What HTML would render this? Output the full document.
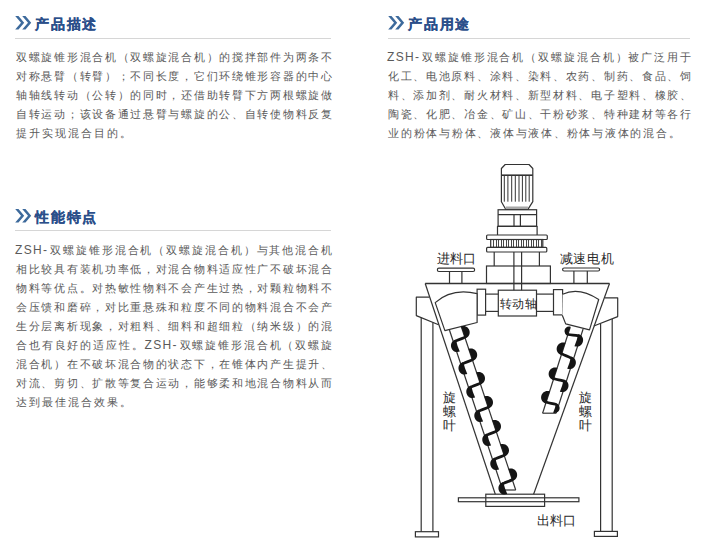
<!DOCTYPE html>
<html><head><meta charset="utf-8">
<style>
html,body{margin:0;padding:0;background:#fff;width:707px;height:554px;overflow:hidden;position:relative;font-family:"Liberation Sans",sans-serif;}
.h{position:absolute;height:20px;font-size:14.2px;letter-spacing:1.8px;font-weight:bold;color:#2b4f8a;line-height:20px;white-space:nowrap;}
.h svg{position:absolute;left:0;top:3px;}
.h span{position:absolute;left:20px;top:0.8px;-webkit-text-stroke:0.2px #2b4f8a;}
.sep{position:absolute;height:1px;background:#d6d6d6;}
.p{position:absolute;font-size:11px;color:#5a5a5a;line-height:19.05px;white-space:nowrap;}
.p div{height:19.05px;text-align:justify;text-align-last:justify;}
.z{font-size:12px;letter-spacing:1.3px;margin-left:-1px;}
.p div.l{text-align:left;text-align-last:left;letter-spacing:1.95px;}
.lb{position:absolute;font-size:12.5px;line-height:14px;color:#2a2a2a;white-space:nowrap;}
.v{line-height:14px;font-size:12.5px;}
</style></head><body>

<div class="h" style="left:15px;top:13px;width:200px">
<svg width="18" height="15" viewBox="0 0 18 15"><path d="M0.2,0 L3.5,0 L9.2,6.8 L3.5,13.5 L0.2,13.5 L6,6.8 Z M7.2,0 L10.5,0 L16.2,6.8 L10.5,13.5 L7.2,13.5 L13,6.8 Z" fill="#3d6a9c"/></svg>
<span>产品描述</span></div>
<div class="sep" style="left:15px;top:38px;width:316px"></div>
<div class="p" style="left:16px;top:48px;width:316px">
<div>双螺旋锥形混合机（双螺旋混合机）的搅拌部件为两条不</div>
<div>对称悬臂（转臂）；不同长度，它们环绕锥形容器的中心</div>
<div>轴轴线转动（公转）的同时，还借助转臂下方两根螺旋做</div>
<div>自转运动；该设备通过悬臂与螺旋的公、自转使物料反复</div>
<div class="l">提升实现混合目的。</div>
</div>

<div class="h" style="left:388px;top:13px;width:200px">
<svg width="18" height="15" viewBox="0 0 18 15"><path d="M0.2,0 L3.5,0 L9.2,6.8 L3.5,13.5 L0.2,13.5 L6,6.8 Z M7.2,0 L10.5,0 L16.2,6.8 L10.5,13.5 L7.2,13.5 L13,6.8 Z" fill="#3d6a9c"/></svg>
<span>产品用途</span></div>
<div class="sep" style="left:388px;top:38px;width:302px"></div>
<div class="p" style="left:388px;top:48px;width:303px">
<div><span class="z">ZSH-</span>双螺旋锥形混合机（双螺旋混合机）被广泛用于</div>
<div>化工、电池原料、涂料、染料、农药、制药、食品、饲</div>
<div>料、添加剂、耐火材料、新型材料、电子塑料、橡胶、</div>
<div>陶瓷、化肥、冶金、矿山、干粉砂浆、特种建材等各行</div>
<div class="l" style="letter-spacing:1.75px">业的粉体与粉体、液体与液体、粉体与液体的混合。</div>
</div>

<div class="h" style="left:15px;top:206px;width:200px">
<svg width="18" height="15" viewBox="0 0 18 15"><path d="M0.2,0 L3.5,0 L9.2,6.8 L3.5,13.5 L0.2,13.5 L6,6.8 Z M7.2,0 L10.5,0 L16.2,6.8 L10.5,13.5 L7.2,13.5 L13,6.8 Z" fill="#3d6a9c"/></svg>
<span>性能特点</span></div>
<div class="sep" style="left:15px;top:230px;width:316px"></div>
<div class="p" style="left:16px;top:241px;width:316px">
<div><span class="z">ZSH-</span>双螺旋锥形混合机（双螺旋混合机）与其他混合机</div>
<div>相比较具有装机功率低，对混合物料适应性广不破坏混合</div>
<div>物料等优点。对热敏性物料不会产生过热，对颗粒物料不</div>
<div>会压馈和磨碎，对比重悬殊和粒度不同的物料混合不会产</div>
<div>生分层离析现象，对粗料、细料和超细粒（纳米级）的混</div>
<div>合也有良好的适应性。<span class="z" style="margin-left:0">ZSH-</span>双螺旋锥形混合机（双螺旋</div>
<div>混合机）在不破坏混合物的状态下，在锥体内产生提升、</div>
<div>对流、剪切、扩散等复合运动，能够柔和地混合物料从而</div>
<div class="l">达到最佳混合效果。</div>
</div>

<svg style="position:absolute;left:0;top:0" width="707" height="554" viewBox="0 0 707 554">
<path d="M505.2,164.5 L529,164.5 L532.8,168.5 L532.8,201.7 L527.9,209.3 L505.7,209.3 L501.4,201.7 L501.4,168.5 Z" fill="#fff" stroke="#333" stroke-width="1.2" stroke-linejoin="round"/>
<line x1="501.4" y1="175.2" x2="532.8" y2="175.2" stroke="#333" stroke-width="1.6"/>
<line x1="504.3" y1="175.2" x2="504.3" y2="201.7" stroke="#333" stroke-width="1.0"/>
<line x1="507.9" y1="175.2" x2="507.9" y2="201.7" stroke="#333" stroke-width="1.0"/>
<line x1="511.7" y1="175.2" x2="511.7" y2="201.7" stroke="#333" stroke-width="1.0"/>
<line x1="515.3" y1="175.2" x2="515.3" y2="201.7" stroke="#333" stroke-width="1.0"/>
<line x1="519.0" y1="175.2" x2="519.0" y2="201.7" stroke="#333" stroke-width="1.0"/>
<line x1="522.4" y1="175.2" x2="522.4" y2="201.7" stroke="#333" stroke-width="1.0"/>
<line x1="525.8" y1="175.2" x2="525.8" y2="201.7" stroke="#333" stroke-width="1.0"/>
<line x1="529.2" y1="175.2" x2="529.2" y2="201.7" stroke="#333" stroke-width="1.0"/>
<rect x="505.7" y="206.5" width="22.2" height="3" fill="#a8a8a8"/>
<rect x="498.1" y="209.75" width="38.5" height="16.55" rx="0" fill="none" stroke="#333" stroke-width="1.2"/>
<line x1="498.1" y1="214.6" x2="536.6" y2="214.6" stroke="#333" stroke-width="1.2"/>
<line x1="514" y1="214.6" x2="514" y2="226.3" stroke="#333" stroke-width="1.2"/>
<line x1="520.4" y1="214.6" x2="520.4" y2="226.3" stroke="#333" stroke-width="1.2"/>
<path d="M497.5,235 L497.5,226.3 L537.1,226.3 L537.1,235" fill="none" stroke="#333" stroke-width="1.2" stroke-linejoin="round"/>
<rect x="486.6" y="235" width="60.7" height="4.5" rx="1" fill="none" stroke="#333" stroke-width="1.2"/>
<rect x="490.7" y="239.5" width="52.1" height="7.9" rx="0" fill="none" stroke="#333" stroke-width="1.2"/>
<line x1="493.5" y1="239.5" x2="493.5" y2="247.4" stroke="#333" stroke-width="0.9"/>
<line x1="496.5" y1="239.5" x2="496.5" y2="247.4" stroke="#333" stroke-width="0.9"/>
<line x1="498.5" y1="239.5" x2="498.5" y2="247.4" stroke="#333" stroke-width="0.9"/>
<line x1="501.5" y1="239.5" x2="501.5" y2="247.4" stroke="#333" stroke-width="0.9"/>
<line x1="503.5" y1="239.5" x2="503.5" y2="247.4" stroke="#333" stroke-width="0.9"/>
<line x1="506.5" y1="239.5" x2="506.5" y2="247.4" stroke="#333" stroke-width="0.9"/>
<line x1="508.5" y1="239.5" x2="508.5" y2="247.4" stroke="#333" stroke-width="0.9"/>
<line x1="511.5" y1="239.5" x2="511.5" y2="247.4" stroke="#333" stroke-width="0.9"/>
<line x1="513.5" y1="239.5" x2="513.5" y2="247.4" stroke="#333" stroke-width="0.9"/>
<line x1="516.5" y1="239.5" x2="516.5" y2="247.4" stroke="#333" stroke-width="0.9"/>
<line x1="518.5" y1="239.5" x2="518.5" y2="247.4" stroke="#333" stroke-width="0.9"/>
<line x1="521.5" y1="239.5" x2="521.5" y2="247.4" stroke="#333" stroke-width="0.9"/>
<line x1="523.5" y1="239.5" x2="523.5" y2="247.4" stroke="#333" stroke-width="0.9"/>
<line x1="526.5" y1="239.5" x2="526.5" y2="247.4" stroke="#333" stroke-width="0.9"/>
<line x1="528.5" y1="239.5" x2="528.5" y2="247.4" stroke="#333" stroke-width="0.9"/>
<line x1="531.5" y1="239.5" x2="531.5" y2="247.4" stroke="#333" stroke-width="0.9"/>
<line x1="533.5" y1="239.5" x2="533.5" y2="247.4" stroke="#333" stroke-width="0.9"/>
<line x1="536.5" y1="239.5" x2="536.5" y2="247.4" stroke="#333" stroke-width="0.9"/>
<line x1="538.5" y1="239.5" x2="538.5" y2="247.4" stroke="#333" stroke-width="0.9"/>
<line x1="541.5" y1="239.5" x2="541.5" y2="247.4" stroke="#333" stroke-width="0.9"/>
<rect x="486.6" y="247.4" width="60.2" height="4.6" rx="1" fill="none" stroke="#333" stroke-width="1.2"/>
<line x1="494.2" y1="252" x2="494.2" y2="266" stroke="#333" stroke-width="1.2"/>
<line x1="539.4" y1="252" x2="539.4" y2="266" stroke="#333" stroke-width="1.2"/>
<rect x="486.5" y="266" width="63.9" height="17.5" rx="0" fill="none" stroke="#333" stroke-width="1.2"/>
<line x1="513.9" y1="252" x2="513.9" y2="290.2" stroke="#333" stroke-width="1.2"/>
<line x1="521.6" y1="252" x2="521.6" y2="290.2" stroke="#333" stroke-width="1.2"/>
<line x1="425.2" y1="283.5" x2="609.5" y2="283.5" stroke="#333" stroke-width="1.4"/>
<line x1="425.2" y1="283.5" x2="495.3" y2="494.2" stroke="#333" stroke-width="1.2"/>
<line x1="609.5" y1="283.5" x2="533.6" y2="494.2" stroke="#333" stroke-width="1.2"/>
<rect x="437.4" y="268.2" width="37.2" height="3.3" rx="1.5" fill="none" stroke="#333" stroke-width="1.2"/>
<line x1="449.5" y1="271.5" x2="449.5" y2="283.5" stroke="#333" stroke-width="1.2"/>
<line x1="461.9" y1="271.5" x2="461.9" y2="283.5" stroke="#333" stroke-width="1.2"/>
<rect x="562.6" y="268" width="37.0" height="3" rx="1.5" fill="none" stroke="#333" stroke-width="1.2"/>
<line x1="573.9" y1="271" x2="573.9" y2="283.5" stroke="#333" stroke-width="1.2"/>
<line x1="587.3" y1="271" x2="587.3" y2="283.5" stroke="#333" stroke-width="1.2"/>
<line x1="485.6" y1="294.1" x2="498.3" y2="294.1" stroke="#333" stroke-width="1.2"/>
<line x1="485.6" y1="311.4" x2="498.3" y2="311.4" stroke="#333" stroke-width="1.2"/>
<line x1="536.5" y1="294.1" x2="553.5" y2="294.1" stroke="#333" stroke-width="1.2"/>
<line x1="536.5" y1="311.4" x2="553.5" y2="311.4" stroke="#333" stroke-width="1.2"/>
<rect x="498.3" y="290.2" width="38.2" height="25.8" rx="0" fill="none" stroke="#333" stroke-width="1.2"/>
<rect x="477.1" y="289.2" width="8.5" height="25.9" rx="0" fill="none" stroke="#333" stroke-width="1.2"/>
<rect x="553.5" y="289.6" width="9.1" height="25.3" rx="0" fill="none" stroke="#333" stroke-width="1.2"/>
<path d="M435.2,302.6 Q452,287.5 477.1,293.6 L477.1,322.5 L444.9,330.6 Z" fill="#fff" stroke="#333" stroke-width="1.2" stroke-linejoin="round"/>
<path d="M562.6,294.2 Q579,286.5 598.7,299.5 L589.5,329.8 L565.7,323.9 L562.3,315.2" fill="#fff" stroke="#333" stroke-width="1.2" stroke-linejoin="round"/>
<path d="M429.5,297.2 L416.3,297.2 L416.3,315.6 L438.6,324.7" fill="none" stroke="#333" stroke-width="1.2" stroke-linejoin="round"/>
<line x1="421.2" y1="317.6" x2="421.2" y2="531.7" stroke="#333" stroke-width="1.2"/>
<line x1="432.9" y1="322.4" x2="432.9" y2="531.7" stroke="#333" stroke-width="1.2"/>
<rect x="415.4" y="531.7" width="23.1" height="5.2" rx="0" fill="none" stroke="#333" stroke-width="1.2"/>
<path d="M605,297.8 L617.7,297.8 L617.7,316.6 L593.8,326" fill="none" stroke="#333" stroke-width="1.2" stroke-linejoin="round"/>
<line x1="600.6" y1="323.8" x2="600.6" y2="531.4" stroke="#333" stroke-width="1.2"/>
<line x1="612.2" y1="319.0" x2="612.2" y2="531.4" stroke="#333" stroke-width="1.2"/>
<rect x="594.4" y="531.4" width="23.0" height="5.0" rx="0" fill="none" stroke="#333" stroke-width="1.2"/>
<rect x="485.8" y="494.2" width="58.8" height="12.2" rx="0" fill="none" stroke="#333" stroke-width="1.2"/>
<rect x="458.4" y="497.8" width="120.5" height="3.9" rx="0" fill="none" stroke="#333" stroke-width="1.2"/>
<line x1="449.42999999999995" y1="330" x2="502.71" y2="490" stroke="#333" stroke-width="1.2"/>
<line x1="461.09799999999996" y1="326" x2="515.71" y2="490" stroke="#333" stroke-width="1.2"/>
<line x1="502.71" y1="490" x2="515.71" y2="490" stroke="#333" stroke-width="1.2"/>
<path d="M460.96,326.52 C469.49,323.68 473.54,335.82 465.0,338.67 Q463.55,332.41 460.96,326.52 Z" fill="#151515"/>
<path d="M455.75,339.48 C447.21,342.32 451.25,354.47 459.79,351.62 Q457.2,345.74 455.75,339.48 Z" fill="#151515"/>
<path d="M465.8,335.37 C466.9,338.69 453.85,339.46 454.95,342.78" fill="none" stroke="#151515" stroke-width="2.8" stroke-linecap="round"/>
<path d="M468.45,349.02 C476.99,346.18 481.03,358.32 472.49,361.17 Q471.04,354.91 468.45,349.02 Z" fill="#151515"/>
<path d="M463.24,361.98 C454.7,364.82 458.75,376.97 467.29,374.12 Q464.69,368.24 463.24,361.98 Z" fill="#151515"/>
<path d="M473.29,357.87 C474.4,361.19 461.34,361.96 462.44,365.28" fill="none" stroke="#151515" stroke-width="2.8" stroke-linecap="round"/>
<path d="M476.27,372.52 C484.81,369.68 488.86,381.82 480.32,384.67 Q478.87,378.41 476.27,372.52 Z" fill="#151515"/>
<path d="M471.07,385.48 C462.53,388.32 466.57,400.47 475.11,397.62 Q472.52,391.74 471.07,385.48 Z" fill="#151515"/>
<path d="M481.12,381.37 C482.22,384.69 469.16,385.46 470.27,388.78" fill="none" stroke="#151515" stroke-width="2.8" stroke-linecap="round"/>
<path d="M484.27,396.52 C492.8,393.68 496.85,405.82 488.31,408.67 Q486.86,402.41 484.27,396.52 Z" fill="#151515"/>
<path d="M479.06,409.48 C470.52,412.32 474.56,424.47 483.1,421.62 Q480.51,415.74 479.06,409.48 Z" fill="#151515"/>
<path d="M489.11,405.37 C490.21,408.69 477.16,409.46 478.26,412.78" fill="none" stroke="#151515" stroke-width="2.8" stroke-linecap="round"/>
<path d="M492.26,420.52 C500.8,417.68 504.84,429.82 496.3,432.67 Q494.85,426.41 492.26,420.52 Z" fill="#151515"/>
<path d="M487.05,433.48 C478.51,436.32 482.56,448.47 491.09,445.62 Q488.5,439.74 487.05,433.48 Z" fill="#151515"/>
<path d="M497.1,429.37 C498.21,432.69 485.15,433.46 486.25,436.78" fill="none" stroke="#151515" stroke-width="2.8" stroke-linecap="round"/>
<path d="M500.25,444.52 C508.79,441.68 512.83,453.82 504.29,456.67 Q502.84,450.41 500.25,444.52 Z" fill="#151515"/>
<path d="M495.04,457.48 C486.5,460.32 490.55,472.47 499.09,469.62 Q496.5,463.74 495.04,457.48 Z" fill="#151515"/>
<path d="M505.09,453.37 C506.2,456.69 493.14,457.46 494.24,460.78" fill="none" stroke="#151515" stroke-width="2.8" stroke-linecap="round"/>
<path d="M508.41,469.02 C516.95,466.18 520.99,478.32 512.45,481.17 Q511.0,474.91 508.41,469.02 Z" fill="#151515"/>
<path d="M503.2,481.98 C494.66,484.82 498.71,496.97 507.25,494.12 Q504.65,488.24 503.2,481.98 Z" fill="#151515"/>
<path d="M513.25,477.87 C514.36,481.19 501.3,481.96 502.4,485.28" fill="none" stroke="#151515" stroke-width="2.8" stroke-linecap="round"/>
<line x1="570.2" y1="327.2" x2="542.6" y2="413.2" stroke="#333" stroke-width="1.2"/>
<line x1="583.1" y1="329" x2="556.1" y2="413.2" stroke="#333" stroke-width="1.2"/>
<line x1="542.6" y1="413.2" x2="556.1" y2="413.2" stroke="#333" stroke-width="1.2"/>
<path d="M570.64,326.83 C564.64,324.9 561.9,333.43 567.9,335.36 Q568.69,330.91 570.64,326.83 Z" fill="#151515"/>
<path d="M578.35,333.99 C586.92,336.74 583.01,348.93 574.44,346.18 Q576.97,340.27 578.35,333.99 Z" fill="#151515"/>
<path d="M566.8,332.89 C565.73,336.22 580.25,333.95 579.19,337.28" fill="none" stroke="#151515" stroke-width="2.8" stroke-linecap="round"/>
<path d="M565.45,343.0 C556.88,340.25 552.96,352.44 561.53,355.19 Q562.92,348.91 565.45,343.0 Z" fill="#151515"/>
<path d="M571.14,356.49 C579.71,359.24 575.79,371.43 567.22,368.68 Q569.75,362.77 571.14,356.49 Z" fill="#151515"/>
<path d="M560.7,351.89 C559.63,355.23 573.04,356.45 571.97,359.78" fill="none" stroke="#151515" stroke-width="2.8" stroke-linecap="round"/>
<path d="M557.42,368.0 C548.85,365.25 544.94,377.44 553.51,380.19 Q554.89,373.91 557.42,368.0 Z" fill="#151515"/>
<path d="M563.76,379.49 C572.33,382.24 568.42,394.43 559.85,391.68 Q562.38,385.77 563.76,379.49 Z" fill="#151515"/>
<path d="M552.68,376.89 C551.61,380.23 565.66,379.45 564.59,382.78" fill="none" stroke="#151515" stroke-width="2.8" stroke-linecap="round"/>
<path d="M549.88,391.5 C541.31,388.75 537.4,400.94 545.97,403.69 Q547.35,397.41 549.88,391.5 Z" fill="#151515"/>
<path d="M556.06,403.51 C562.48,405.58 559.55,414.72 553.12,412.65 Q555.16,408.27 556.06,403.51 Z" fill="#151515"/>
<path d="M545.13,400.39 C544.07,403.73 558.18,402.79 557.11,406.12" fill="none" stroke="#151515" stroke-width="2.8" stroke-linecap="round"/>

</svg>
<div class="lb" style="left:436.5px;top:251.7px;letter-spacing:0.2px">进料口</div>
<div class="lb" style="left:559.5px;top:251.7px;letter-spacing:0.9px">减速电机</div>
<div class="lb" style="left:500px;top:296.5px;letter-spacing:0.3px;font-size:11.5px">转动轴</div>
<div class="lb" style="left:536.5px;top:513.7px;letter-spacing:0.2px">出料口</div>
<div class="lb v" style="left:443px;top:390.5px">旋<br>螺<br>叶</div>
<div class="lb v" style="left:579px;top:391px">旋<br>螺<br>叶</div>
</body></html>
